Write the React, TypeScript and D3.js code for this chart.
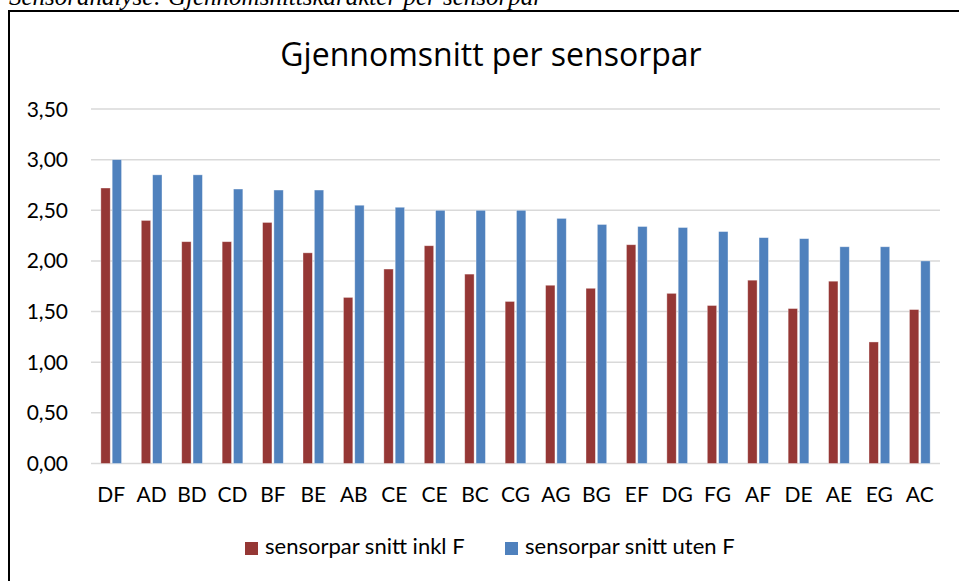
import { useRef, useEffect } from "react";
import * as d3 from "d3";

const categories = ["DF", "AD", "BD", "CD", "BF", "BE", "AB", "CE", "CE", "BC", "CG", "AG", "BG", "EF", "DG", "FG", "AF", "DE", "AE", "EG", "AC"];
const inklF = [2.72, 2.4, 2.19, 2.19, 2.38, 2.08, 1.64, 1.92, 2.15, 1.87, 1.6, 1.76, 1.73, 2.16, 1.68, 1.56, 1.81, 1.53, 1.8, 1.2, 1.52];
const utenF = [3.0, 2.85, 2.85, 2.71, 2.7, 2.7, 2.55, 2.53, 2.5, 2.5, 2.5, 2.42, 2.36, 2.34, 2.33, 2.29, 2.23, 2.22, 2.14, 2.14, 2.0];
const seriesNames = ["sensorpar snitt inkl F", "sensorpar snitt uten F"];
const seriesColors = ["#953735", "#4f81bd"];
const yTicks = [0, 0.5, 1, 1.5, 2, 2.5, 3, 3.5];

const W = 959;
const H = 581;
const FONT = "Lato, 'Open Sans', sans-serif";

export default function App() {
  const svgRef = useRef<SVGSVGElement>(null);

  useEffect(() => {
    if (!svgRef.current) return;
    const svg = d3.select(svgRef.current);
    svg.selectAll("*").remove();

    svg.append("rect").attr("width", W).attr("height", H).attr("fill", "#fff");

    // caption above the frame, cut off by the page top
    svg
      .append("text")
      .attr("x", 9)
      .attr("y", 5)
      .attr("font-family", "'Liberation Serif', 'DejaVu Serif', serif")
      .attr("font-style", "italic")
      .attr("font-size", "25px")
      .attr("fill", "#000")
      .text("Sensoranalyse: Gjennomsnittskarakter per sensorpar");

    // frame
    svg
      .append("path")
      .attr("d", "M9,581 V11 H959")
      .attr("fill", "none")
      .attr("stroke", "#000")
      .attr("stroke-width", 2);

    svg
      .append("text")
      .attr("x", 491)
      .attr("y", 66)
      .attr("text-anchor", "middle")
      .attr("font-family", "'Open Sans', sans-serif")
      .attr("font-size", "32px")
      .attr("fill", "#000")
      .text("Gjennomsnitt per sensorpar");

    const y = d3.scaleLinear().domain([0, 3.5]).range([463.5, 109]);
    const x0 = d3
      .scaleBand<number>()
      .domain(categories.map((_, i) => i))
      .range([91, 940]);
    const x1 = d3
      .scaleBand<number>()
      .domain([0, 1])
      .range([0, x0.bandwidth()])
      .paddingInner(0.17)
      .paddingOuter(0.87);

    const fmt = (v: number) => v.toFixed(2).replace(".", ",");

    // gridlines
    svg
      .append("g")
      .selectAll("line")
      .data(yTicks)
      .enter()
      .append("line")
      .attr("x1", 91)
      .attr("x2", 940)
      .attr("y1", (d) => y(d))
      .attr("y2", (d) => y(d))
      .attr("stroke", "#d9d9d9")
      .attr("stroke-width", 1.5);

    svg
      .append("g")
      .selectAll("text")
      .data(yTicks)
      .enter()
      .append("text")
      .attr("x", 68)
      .attr("y", (d) => y(d))
      .attr("dy", "0.36em")
      .attr("text-anchor", "end")
      .attr("font-family", FONT)
      .attr("font-size", "21px")
      .attr("fill", "#000")
      .text(fmt);

    // bars
    const series = [inklF, utenF];
    series.forEach((vals, s) => {
      svg
        .append("g")
        .selectAll("rect")
        .data(vals)
        .enter()
        .append("rect")
        .attr("x", (_, i) => (x0(i) ?? 0) + (x1(s) ?? 0))
        .attr("y", (d) => y(d))
        .attr("width", x1.bandwidth())
        .attr("height", (d) => y(0) - y(d))
        .attr("fill", seriesColors[s])
        .attr("stroke", "#fff")
        .attr("stroke-opacity", 0.5)
        .attr("stroke-width", 0.75);
    });

    // category labels
    svg
      .append("g")
      .selectAll("text")
      .data(categories)
      .enter()
      .append("text")
      .attr("x", (_, i) => (x0(i) ?? 0) + x0.bandwidth() / 2)
      .attr("y", 502)
      .attr("text-anchor", "middle")
      .attr("font-family", FONT)
      .attr("font-size", "21px")
      .attr("fill", "#000")
      .text((d) => d);

    // legend
    const legendX = [245, 505];
    seriesNames.forEach((name, s) => {
      const g = svg.append("g").attr("transform", `translate(${legendX[s]},542)`);
      g.append("rect").attr("width", 13).attr("height", 13).attr("fill", seriesColors[s]);
      g.append("text")
        .attr("x", 20)
        .attr("y", 12)
        .attr("font-family", FONT)
        .attr("font-size", "22px")
        .attr("fill", "#000")
        .text(name);
    });
  }, []);

  return (
    <svg
      ref={svgRef}
      width={W}
      height={H}
      style={{ position: "absolute", left: 0, top: 0 }}
      role="img"
      aria-label="Gjennomsnitt per sensorpar"
    />
  );
}
